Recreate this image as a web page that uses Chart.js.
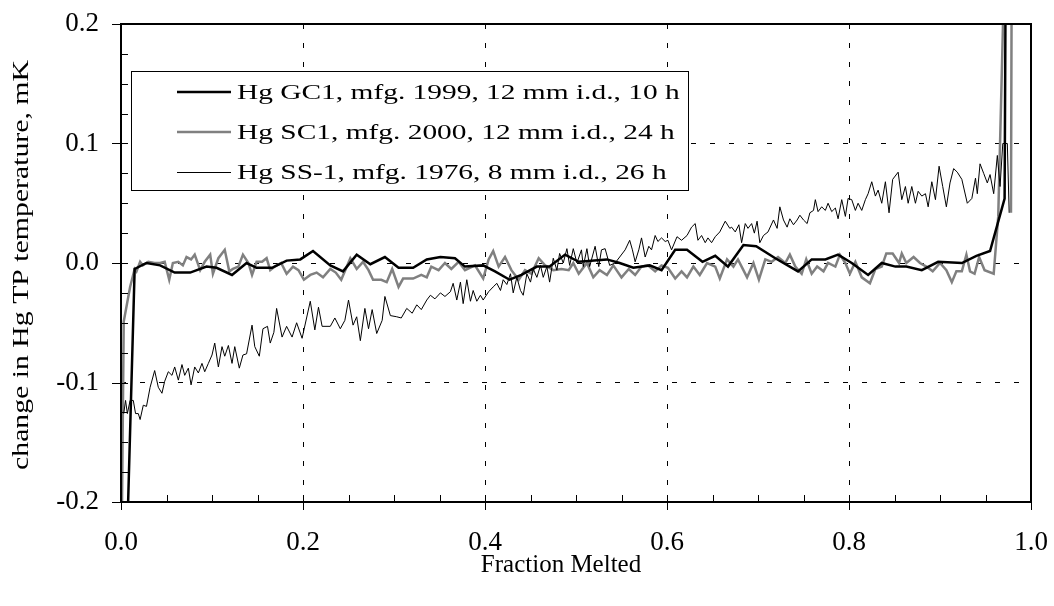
<!DOCTYPE html>
<html>
<head>
<meta charset="utf-8">
<script src="https://cdn.jsdelivr.net/npm/chart.js@4.4.0/dist/chart.umd.min.js"></script>
<style>
  body { margin: 0; background: #fff; }
  #wrap { width: 1054px; height: 606px; position: relative; }
</style>
</head>
<body>
<div id="wrap"><canvas id="chart"></canvas></div>
<script>
// tick values
const xTicks = [0, 0.2, 0.4, 0.6, 0.8, 1.0];
const yTicks = [-0.2, -0.1, 0, 0.1, 0.2];

// Hg GC1 (thick black)
const gc1X = [0.006, 0.015, 0.028, 0.043, 0.059, 0.076, 0.094, 0.105, 0.122, 0.138, 0.149, 0.166, 0.182, 0.197, 0.211,
  0.230, 0.244, 0.259, 0.274, 0.290, 0.305, 0.321, 0.336, 0.351, 0.367, 0.378, 0.398, 0.411, 0.427, 0.440, 0.457,
  0.471, 0.488, 0.503, 0.534, 0.548, 0.563, 0.581, 0.594, 0.609, 0.622, 0.639, 0.653, 0.667, 0.684, 0.698, 0.719,
  0.744, 0.759, 0.774, 0.788, 0.803, 0.821, 0.836, 0.851, 0.863, 0.880, 0.898, 0.924, 0.940, 0.955, 0.971, 0.9725];
const gc1Y = [-0.25, -0.005, 0.000, -0.002, -0.008, -0.008, -0.003, -0.004, -0.010, 0.000, -0.004, -0.004, 0.002, 0.003, 0.010,
  -0.002, -0.007, 0.007, -0.001, 0.005, -0.004, -0.004, 0.003, 0.005, 0.004, -0.003, -0.002, -0.007, -0.014, -0.010, -0.003,
  -0.003, 0.007, 0.001, 0.003, 0.000, -0.004, -0.002, -0.006, 0.011, 0.011, 0.001, 0.006, -0.003, 0.015, 0.014, 0.004,
  -0.007, 0.003, 0.003, 0.007, 0.000, -0.010, 0.000, -0.003, -0.003, -0.006, 0.001, 0.000, 0.006, 0.010, 0.054, 0.30];

// Hg SC1 (thick grey)
const sc1X = [0.0005, 0.003, 0.010, 0.015, 0.017, 0.021, 0.024, 0.030, 0.037, 0.043, 0.048, 0.053, 0.057, 0.063, 0.068,
  0.072, 0.077, 0.081, 0.087, 0.092, 0.098, 0.101, 0.107, 0.114, 0.119, 0.123, 0.129, 0.134, 0.140, 0.144, 0.149,
  0.155, 0.160, 0.164, 0.169, 0.176, 0.182, 0.189, 0.195, 0.201, 0.208, 0.215, 0.222, 0.230, 0.236, 0.242, 0.252,
  0.259, 0.266, 0.272, 0.277, 0.286, 0.292, 0.298, 0.305, 0.310, 0.321, 0.330, 0.336, 0.341, 0.349, 0.356, 0.363,
  0.371, 0.378, 0.389, 0.398, 0.404, 0.409, 0.415, 0.422, 0.429, 0.437, 0.444, 0.451, 0.459, 0.466, 0.475, 0.484,
  0.492, 0.497, 0.503, 0.512, 0.519, 0.526, 0.534, 0.541, 0.550, 0.558, 0.565, 0.572, 0.579, 0.587, 0.594, 0.601,
  0.609, 0.616, 0.622, 0.629, 0.636, 0.644, 0.653, 0.658, 0.666, 0.673, 0.678, 0.682, 0.688, 0.695, 0.701, 0.708,
  0.715, 0.722, 0.730, 0.735, 0.741, 0.748, 0.753, 0.759, 0.765, 0.772, 0.777, 0.785, 0.790, 0.796, 0.801, 0.807,
  0.814, 0.823, 0.829, 0.836, 0.841, 0.848, 0.855, 0.858, 0.863, 0.871, 0.878, 0.885, 0.892, 0.900, 0.907, 0.913,
  0.918, 0.924, 0.929, 0.933, 0.938, 0.943, 0.949, 0.959, 0.964, 0.9725, 0.979, 0.978];
const sc1Y = [-0.25, -0.049, -0.020, -0.005, -0.007, 0.001, -0.002, 0.001, 0.000, 0.000, 0.001, -0.014, 0.000, 0.001, -0.002,
  0.005, 0.003, 0.007, -0.006, 0.001, 0.007, -0.009, 0.004, 0.011, -0.007, -0.005, -0.003, 0.007, 0.000, -0.010, 0.001,
  0.001, 0.004, -0.006, -0.003, 0.000, -0.009, -0.003, -0.006, -0.014, -0.010, -0.008, -0.012, -0.005, -0.008, -0.014, 0.004,
  -0.005, 0.001, -0.006, -0.014, -0.014, -0.016, -0.005, -0.020, -0.013, -0.013, -0.010, -0.012, -0.003, -0.006, 0.000, -0.005,
  0.001, -0.006, -0.002, -0.013, 0.003, 0.010, -0.003, 0.005, -0.006, -0.014, -0.006, -0.009, 0.004, -0.002, -0.006, -0.005,
  -0.006, 0.000, -0.009, 0.000, -0.012, -0.006, -0.010, -0.002, -0.012, -0.005, -0.010, -0.003, -0.002, -0.007, -0.002, -0.004,
  -0.013, -0.007, -0.012, -0.003, -0.010, 0.000, -0.003, -0.013, 0.003, -0.003, 0.003, -0.003, -0.012, 0.000, -0.014, 0.003,
  0.001, 0.005, 0.000, 0.007, -0.003, -0.009, 0.003, -0.009, -0.003, -0.007, 0.000, -0.003, 0.007, 0.000, -0.009, 0.001,
  -0.012, -0.017, -0.005, -0.003, 0.008, 0.008, 0.000, 0.008, 0.000, 0.005, 0.000, -0.003, -0.007, 0.000, -0.006, -0.016,
  -0.007, -0.007, 0.007, -0.007, -0.009, 0.005, -0.006, -0.009, 0.039, 0.30, 0.30, 0.042];

// Hg SS-1 (thin black)
const ss1X = [0.003, 0.005, 0.007, 0.010, 0.0135, 0.016, 0.019, 0.021, 0.0245, 0.028, 0.032, 0.037, 0.041, 0.045, 0.048,
  0.052, 0.056, 0.059, 0.063, 0.067, 0.070, 0.074, 0.077, 0.081, 0.085, 0.089, 0.092, 0.096, 0.100, 0.103, 0.107,
  0.111, 0.114, 0.118, 0.122, 0.125, 0.130, 0.134, 0.138, 0.144, 0.147, 0.152, 0.156, 0.161, 0.164, 0.168, 0.171,
  0.177, 0.182, 0.188, 0.193, 0.199, 0.208, 0.213, 0.217, 0.221, 0.230, 0.235, 0.241, 0.246, 0.250, 0.255, 0.259,
  0.263, 0.268, 0.272, 0.276, 0.281, 0.287, 0.290, 0.296, 0.303, 0.308, 0.314, 0.320, 0.325, 0.330, 0.336, 0.340,
  0.345, 0.351, 0.356, 0.362, 0.365, 0.369, 0.373, 0.376, 0.380, 0.384, 0.387, 0.391, 0.395, 0.398, 0.404, 0.409,
  0.413, 0.417, 0.420, 0.424, 0.428, 0.431, 0.435, 0.439, 0.442, 0.446, 0.450, 0.453, 0.457, 0.461, 0.464, 0.468,
  0.471, 0.475, 0.479, 0.482, 0.486, 0.490, 0.493, 0.497, 0.501, 0.506, 0.508, 0.512, 0.515, 0.521, 0.525, 0.528,
  0.532, 0.537, 0.543, 0.548, 0.554, 0.559, 0.562, 0.565, 0.569, 0.572, 0.576, 0.580, 0.583, 0.587, 0.590, 0.594,
  0.598, 0.601, 0.605, 0.611, 0.616, 0.622, 0.627, 0.631, 0.634, 0.638, 0.642, 0.645, 0.649, 0.653, 0.658, 0.664,
  0.669, 0.671, 0.675, 0.679, 0.682, 0.686, 0.689, 0.693, 0.696, 0.699, 0.702, 0.706, 0.711, 0.717, 0.721, 0.724,
  0.728, 0.732, 0.735, 0.739, 0.743, 0.746, 0.750, 0.754, 0.757, 0.761, 0.763, 0.766, 0.770, 0.774, 0.777, 0.781,
  0.785, 0.788, 0.792, 0.796, 0.799, 0.803, 0.807, 0.810, 0.814, 0.818, 0.821, 0.825, 0.829, 0.832, 0.836, 0.840,
  0.844, 0.848, 0.854, 0.858, 0.862, 0.865, 0.869, 0.873, 0.876, 0.880, 0.884, 0.887, 0.891, 0.895, 0.899, 0.903,
  0.907, 0.911, 0.915, 0.919, 0.924, 0.930, 0.935, 0.939, 0.941, 0.944, 0.948, 0.952, 0.955, 0.959, 0.963, 0.966,
  0.969, 0.974, 0.976];
const ss1Y = [-0.126, -0.115, -0.126, -0.115, -0.115, -0.126, -0.126, -0.131, -0.119, -0.120, -0.104, -0.090, -0.104, -0.109, -0.099,
  -0.091, -0.094, -0.087, -0.098, -0.085, -0.094, -0.088, -0.102, -0.087, -0.092, -0.084, -0.091, -0.084, -0.077, -0.067, -0.087,
  -0.070, -0.078, -0.069, -0.084, -0.070, -0.088, -0.077, -0.076, -0.052, -0.070, -0.078, -0.055, -0.053, -0.067, -0.058, -0.038,
  -0.062, -0.053, -0.062, -0.050, -0.063, -0.032, -0.056, -0.037, -0.053, -0.053, -0.046, -0.055, -0.048, -0.031, -0.052, -0.045,
  -0.065, -0.038, -0.055, -0.039, -0.059, -0.048, -0.028, -0.044, -0.045, -0.046, -0.038, -0.042, -0.035, -0.039, -0.031, -0.027,
  -0.030, -0.025, -0.028, -0.024, -0.017, -0.031, -0.016, -0.034, -0.014, -0.032, -0.023, -0.032, -0.027, -0.031, -0.024, -0.020,
  -0.017, -0.023, -0.014, -0.018, -0.009, -0.025, -0.012, -0.023, -0.027, -0.009, -0.016, -0.005, -0.012, -0.002, -0.012, -0.003,
  -0.016, 0.004, -0.006, 0.008, 0.000, 0.012, -0.002, 0.012, 0.000, 0.011, -0.003, 0.012, -0.003, 0.014, -0.003, 0.011,
  0.012, -0.002, 0.000, 0.005, 0.011, 0.019, 0.011, 0.001, 0.011, 0.021, 0.005, 0.014, 0.011, 0.023, 0.018, 0.021,
  0.018, 0.019, 0.011, 0.022, 0.019, 0.023, 0.030, 0.033, 0.019, 0.023, 0.017, 0.021, 0.017, 0.022, 0.026, 0.035,
  0.029, 0.030, 0.026, 0.032, 0.017, 0.033, 0.029, 0.033, 0.025, 0.035, 0.017, 0.023, 0.026, 0.036, 0.029, 0.047,
  0.036, 0.030, 0.037, 0.032, 0.036, 0.040, 0.036, 0.033, 0.042, 0.044, 0.053, 0.043, 0.047, 0.044, 0.050, 0.043,
  0.046, 0.037, 0.053, 0.039, 0.054, 0.053, 0.044, 0.050, 0.044, 0.053, 0.058, 0.068, 0.056, 0.061, 0.050, 0.068,
  0.042, 0.070, 0.076, 0.053, 0.064, 0.050, 0.064, 0.050, 0.060, 0.056, 0.058, 0.047, 0.068, 0.053, 0.081, 0.064,
  0.047, 0.067, 0.079, 0.076, 0.070, 0.050, 0.054, 0.071, 0.058, 0.083, 0.075, 0.067, 0.074, 0.058, 0.090, 0.064,
  0.100, 0.100, 0.042];

const FONT = '"Liberation Serif", "Times New Roman", serif';
const xTitle = 'Fraction Melted';
const yTitle = 'change in Hg TP temperature, mK';

function toPoints(xs, ys) {
  return xs.map((x, i) => ({ x: x, y: ys[i] }));
}

// frame, minor ticks, axis titles and the boxed legend
const framePlugin = {
  id: 'frame',
  afterDatasetsDraw(chart) {
    const ctx = chart.ctx;
    const area = chart.chartArea;
    const xs = chart.scales.x;
    const ys = chart.scales.y;
    ctx.save();
    ctx.strokeStyle = '#000';
    ctx.lineWidth = 1;
    ctx.setLineDash([]);
    ctx.beginPath();
    for (let v = 0.05; v < 1; v += 0.05) {
      const px = Math.round(xs.getPixelForValue(v)) + 0.5;
      ctx.moveTo(px, area.bottom - 7);
      ctx.lineTo(px, area.bottom);
    }
    xTicks.forEach(v => {
      const px = Math.round(xs.getPixelForValue(v)) + 0.5;
      ctx.moveTo(px, area.bottom);
      ctx.lineTo(px, area.bottom + 8);
    });
    for (let v = -0.175; v < 0.2; v += 0.025) {
      const py = Math.round(ys.getPixelForValue(v)) + 0.5;
      ctx.moveTo(area.left, py);
      ctx.lineTo(area.left + 7, py);
    }
    yTicks.forEach(v => {
      const py = Math.round(ys.getPixelForValue(v)) + 0.5;
      ctx.moveTo(area.left - 9, py);
      ctx.lineTo(area.left, py);
    });
    ctx.stroke();

    ctx.lineWidth = 2;
    ctx.strokeRect(area.left, area.top, area.right - area.left, area.bottom - area.top);

    ctx.fillStyle = '#000';
    ctx.textAlign = 'center';
    ctx.textBaseline = 'middle';

    // x axis title, sits a little left of centre in the original
    ctx.font = '25px ' + FONT;
    ctx.fillText(xTitle, 561, 565);

    // y axis title (the original text is drawn wide)
    ctx.save();
    ctx.translate(22, (area.top + area.bottom) / 2 + 2);
    ctx.rotate(-Math.PI / 2);
    ctx.scale(1.24, 1);
    ctx.font = '24px ' + FONT;
    ctx.fillText(yTitle, 0, 0);
    ctx.restore();

    // legend
    const lx = area.left + 10, ly = area.top + 47, lw = 557, lh = 119;
    ctx.fillStyle = '#fff';
    ctx.fillRect(lx, ly, lw, lh);
    ctx.lineWidth = 1;
    ctx.strokeStyle = '#000';
    ctx.strokeRect(lx + 0.5, ly + 0.5, lw, lh);
    chart.data.datasets.forEach((ds, i) => {
      const y = ly + 21 + i * 40 + (ds.borderWidth < 2 ? 0.5 : 0);
      ctx.strokeStyle = ds.borderColor;
      ctx.lineWidth = ds.borderWidth;
      ctx.beginPath();
      ctx.moveTo(lx + 46, y);
      ctx.lineTo(lx + 100, y);
      ctx.stroke();
      ctx.save();
      ctx.translate(lx + 106, ly + 22 + i * 40);
      ctx.scale(1.4, 1);
      ctx.font = '21px ' + FONT;
      ctx.textBaseline = 'middle';
      ctx.textAlign = 'left';
      ctx.fillStyle = '#000';
      ctx.fillText(ds.label, 0, 0);
      ctx.restore();
    });
    ctx.restore();
  }
};

new Chart(document.getElementById('chart'), {
  type: 'scatter',
  data: {
    datasets: [
      {
        label: 'Hg GC1, mfg. 1999, 12 mm i.d., 10 h',
        data: toPoints(gc1X, gc1Y),
        borderColor: '#000000',
        borderWidth: 2.5,
        order: 2
      },
      {
        label: 'Hg SC1, mfg. 2000, 12 mm i.d., 24 h',
        data: toPoints(sc1X, sc1Y),
        borderColor: '#808080',
        borderWidth: 2.5,
        order: 3
      },
      {
        label: 'Hg SS-1, mfg. 1976, 8 mm i.d., 26 h',
        data: toPoints(ss1X, ss1Y),
        borderColor: '#000000',
        borderWidth: 1,
        order: 1
      }
    ]
  },
  options: {
    responsive: true,
    maintainAspectRatio: false,
    animation: false,
    showLine: true,
    datasets: {
      scatter: { pointRadius: 0, pointHoverRadius: 0, tension: 0, fill: false }
    },
    layout: { padding: { left: 0, right: 23, top: 24, bottom: 0 } },
    plugins: {
      legend: { display: false },
      tooltip: { enabled: false }
    },
    scales: {
      x: {
        type: 'linear',
        min: 0,
        max: 1,
        afterBuildTicks: s => { s.ticks = xTicks.map(v => ({ value: v })); },
        afterFit: s => { s.height = 104; s.paddingLeft = 0; s.paddingRight = 0; },
        ticks: {
          color: '#000',
          padding: 25,
          maxRotation: 0,
          font: { family: FONT, size: 27 },
          callback: v => v.toFixed(1)
        },
        grid: { color: '#000', lineWidth: 1, drawTicks: false },
        border: { display: false, dash: [5, 14] }
      },
      y: {
        type: 'linear',
        min: -0.2,
        max: 0.2,
        afterBuildTicks: s => { s.ticks = yTicks.map(v => ({ value: v })); },
        afterFit: s => { s.width = 121; s.paddingTop = 0; s.paddingBottom = 0; },
        ticks: {
          color: '#000',
          padding: 22,
          font: { family: FONT, size: 27 },
          callback: v => v.toFixed(1)
        },
        grid: { color: '#000', lineWidth: 1, drawTicks: false },
        border: { display: false, dash: [5, 14] }
      }
    }
  },
  plugins: [framePlugin]
});
</script>
</body>
</html>
